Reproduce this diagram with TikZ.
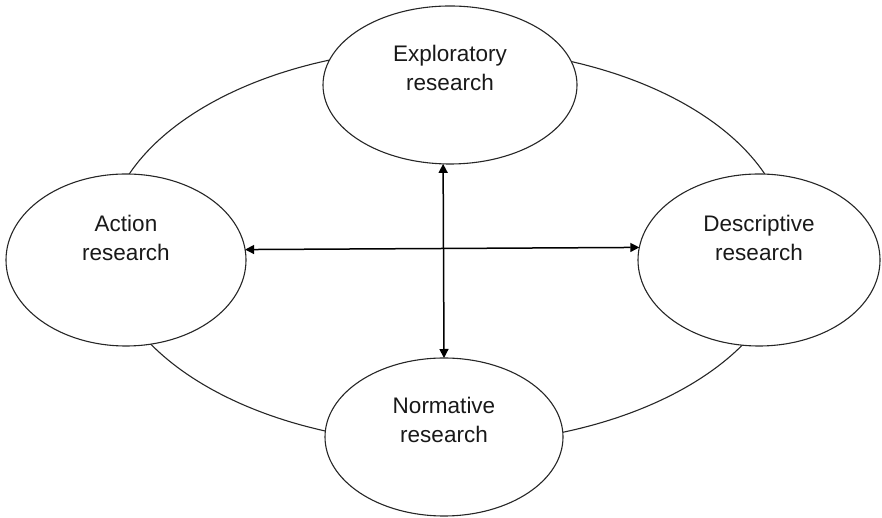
\documentclass[tikz,border=0pt]{standalone}
\usepackage{fontspec}
\setmainfont{Liberation Sans}
\usetikzlibrary{shapes,arrows.meta,positioning}

\tikzset{
  kind/.style={draw=black!85, line width=1.1pt, ellipse, fill=white, inner sep=0pt, outer sep=0pt},
  txt/.style={align=center, font=\fontsize{22.5}{29}\selectfont, text=black!90},
  link/.style={{Triangle[length=9pt,width=9pt]}-{Triangle[length=9pt,width=9pt]}, line width=1.5pt}
}

\begin{document}
\begin{tikzpicture}[x=1pt,y=1pt]
  \useasboundingbox (0,0) rectangle (882,518);
  % outer ring
  \draw[black!85, line width=1.1pt] (447,272) ellipse [x radius=341pt, y radius=198pt];
  % the four kinds of research
  \node[kind, minimum width=254pt, minimum height=158pt,
        label={[txt, yshift=17pt]center:Exploratory\\research}] (expl) at (450,433) {};
  \node[kind, minimum width=240pt, minimum height=172pt,
        label={[txt, yshift=22pt]center:Action\\research}] (action) at (126,258) {};
  \node[kind, minimum width=242pt, minimum height=172pt,
        label={[txt, yshift=22pt]center:Descriptive\\research}] (desc) at (759,258) {};
  \node[kind, minimum width=238pt, minimum height=158pt,
        label={[txt, yshift=17pt]center:Normative\\research}] (norm) at (444,81) {};
  % cross of arrows
  \draw[link] (action.5.8) -- (desc.174.3);
  \draw[link] (expl.265) -- (norm.90.7);
\end{tikzpicture}
\end{document}
